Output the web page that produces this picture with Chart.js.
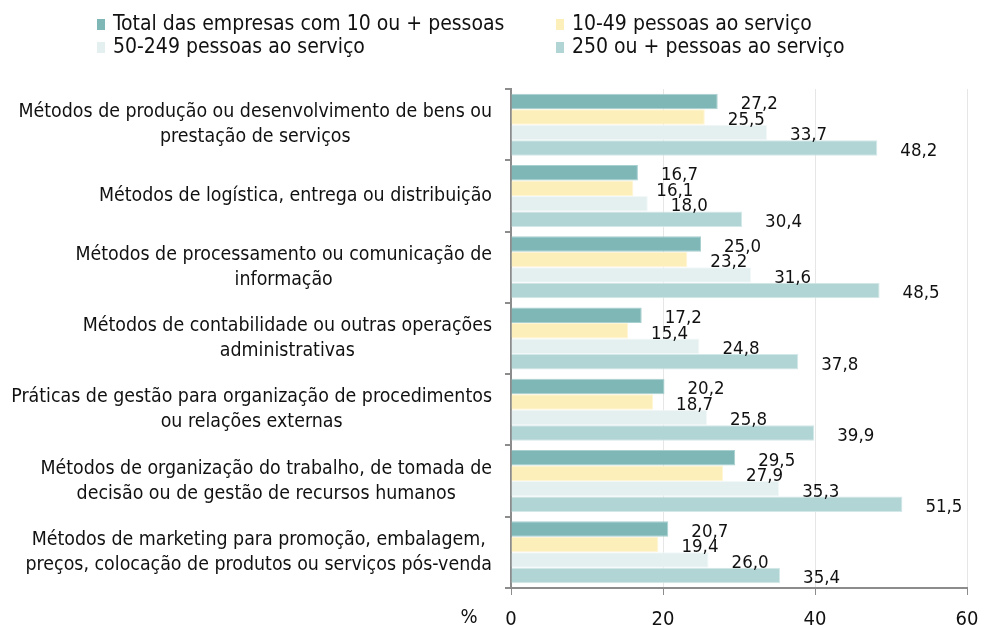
<!DOCTYPE html>
<html>
<head>
<meta charset="utf-8">
<script src="https://cdn.jsdelivr.net/npm/chart.js@4.4.1/dist/chart.umd.min.js"></script>
<style>
  html, body { margin: 0; padding: 0; background: #fff; }
  #wrap { width: 984px; height: 625px; position: relative; }
</style>
</head>
<body>
<div id="wrap"><canvas id="barChart"></canvas></div>
<script>
// dados
const categories = [
  ['Métodos de produção ou desenvolvimento de bens ou', 'prestação de serviços'],
  ['Métodos de logística, entrega ou distribuição'],
  ['Métodos de processamento ou comunicação de', 'informação'],
  ['Métodos de contabilidade ou outras operações', 'administrativas'],
  ['Práticas de gestão para organização de procedimentos', 'ou relações externas'],
  ['Métodos de organização do trabalho, de tomada de', 'decisão ou de gestão de recursos humanos'],
  ['Métodos de marketing para promoção, embalagem,', 'preços, colocação de produtos ou serviços pós-venda']
];
const seriesNames = [
  'Total das empresas com 10 ou + pessoas',
  '10-49 pessoas ao serviço',
  '50-249 pessoas ao serviço',
  '250 ou + pessoas ao serviço'
];
const totalValues = [27.2, 16.7, 25.0, 17.2, 20.2, 29.5, 20.7];
const smallValues = [25.5, 16.1, 23.2, 15.4, 18.7, 27.9, 19.4];
const mediumValues = [33.7, 18.0, 31.6, 24.8, 25.8, 35.3, 26.0];
const largeValues = [48.2, 30.4, 48.5, 37.8, 39.9, 51.5, 35.4];
const xTicks = [0, 20, 40, 60];

const colors = ['#7fb7b7', '#fdefba', '#e4f0f0', '#b1d4d4'];
const borders = ['#a9d0d0', '#fff6d6', '#f2f8f8', '#d3e8e8'];
const FONT = "'DejaVu Sans Condensed', 'DejaVu Sans', sans-serif";

// legenda 2x2
const legendPlugin = {
  id: 'gridLegend',
  afterDraw(chart) {
    const ctx = chart.ctx;
    const pos = [[97, 25], [556, 25], [97, 48], [556, 48]];
    ctx.save();
    ctx.font = '21px ' + FONT;
    ctx.textBaseline = 'middle';
    ctx.textAlign = 'left';
    chart.data.datasets.forEach(function(ds, i) {
      const p = pos[i];
      ctx.fillStyle = ds.backgroundColor;
      ctx.fillRect(p[0], p[1] - 6, 8, 11);
      ctx.fillStyle = '#111';
      ctx.fillText(ds.label, p[0] + 16, p[1]);
    });
    ctx.restore();
  }
};

// rótulos das categorias (bloco alinhado à direita, linhas centradas)
const catLabelPlugin = {
  id: 'catLabels',
  afterDraw(chart) {
    const ctx = chart.ctx;
    const yScale = chart.scales.y;
    ctx.save();
    ctx.font = '19.4px ' + FONT;
    ctx.fillStyle = '#111';
    ctx.textAlign = 'center';
    ctx.textBaseline = 'middle';
    chart.data.labels.forEach(function(lines, i) {
      const y = yScale.getPixelForValue(i);
      let maxW = 0;
      lines.forEach(function(l) { maxW = Math.max(maxW, ctx.measureText(l).width); });
      const cx = 492 - maxW / 2;
      const y0 = y - (lines.length - 1) * 12.5;
      lines.forEach(function(l, j) { ctx.fillText(l, cx, y0 + j * 25); });
    });
    ctx.restore();
  }
};

// valores ao lado das barras
const valueLabelPlugin = {
  id: 'valueLabels',
  afterDatasetsDraw(chart) {
    const ctx = chart.ctx;
    ctx.save();
    ctx.font = '18.5px ' + FONT;
    ctx.fillStyle = '#111';
    ctx.textAlign = 'left';
    ctx.textBaseline = 'middle';
    chart.data.datasets.forEach(function(ds, i) {
      const meta = chart.getDatasetMeta(i);
      meta.data.forEach(function(bar, j) {
        const txt = ds.data[j].toFixed(1).replace('.', ',');
        ctx.fillText(txt, bar.x + 23, bar.y + 3);
      });
    });
    // sinal de percentagem
    ctx.font = '20px ' + FONT;
    ctx.textAlign = 'center';
    ctx.fillText('%', 469, 618);
    ctx.restore();
  }
};

const myChart = new Chart(document.getElementById('barChart'), {
  type: 'bar',
  data: {
    labels: categories,
    datasets: [
      { label: seriesNames[0], data: totalValues },
      { label: seriesNames[1], data: smallValues },
      { label: seriesNames[2], data: mediumValues },
      { label: seriesNames[3], data: largeValues }
    ].map(function(ds, i) {
      ds.backgroundColor = colors[i];
      ds.borderColor = borders[i];
      ds.borderWidth = 1;
      ds.categoryPercentage = 0.87;
      ds.barPercentage = 1.0;
      return ds;
    })
  },
  options: {
    indexAxis: 'y',
    responsive: true,
    maintainAspectRatio: false,
    animation: false,
    layout: { padding: { top: 89, right: 17, left: 0, bottom: 0 } },
    plugins: {
      legend: { display: false },
      tooltip: { enabled: false }
    },
    scales: {
      x: {
        min: 0,
        max: 60,
        afterBuildTicks: function(scale) {
          scale.ticks = xTicks.map(function(v) { return { value: v }; });
        },
        afterFit: function(scale) {
          scale.height = 37;
          scale.paddingLeft = 0;
          scale.paddingRight = 0;
        },
        grid: {
          color: '#e6e6e6',
          tickColor: '#8c8c8c',
          tickLength: 7
        },
        border: { color: '#8c8c8c', width: 2 },
        ticks: {
          padding: 13,
          color: '#111',
          font: { family: FONT, size: 20 }
        }
      },
      y: {
        afterFit: function(scale) { scale.width = 511; },
        grid: {
          offset: true,
          drawOnChartArea: false,
          color: '#8c8c8c',
          tickLength: 6,
          lineWidth: 2
        },
        border: { color: '#8c8c8c', width: 2 },
        ticks: { display: false }
      }
    }
  },
  plugins: [legendPlugin, catLabelPlugin, valueLabelPlugin]
});
</script>
</body>
</html>
